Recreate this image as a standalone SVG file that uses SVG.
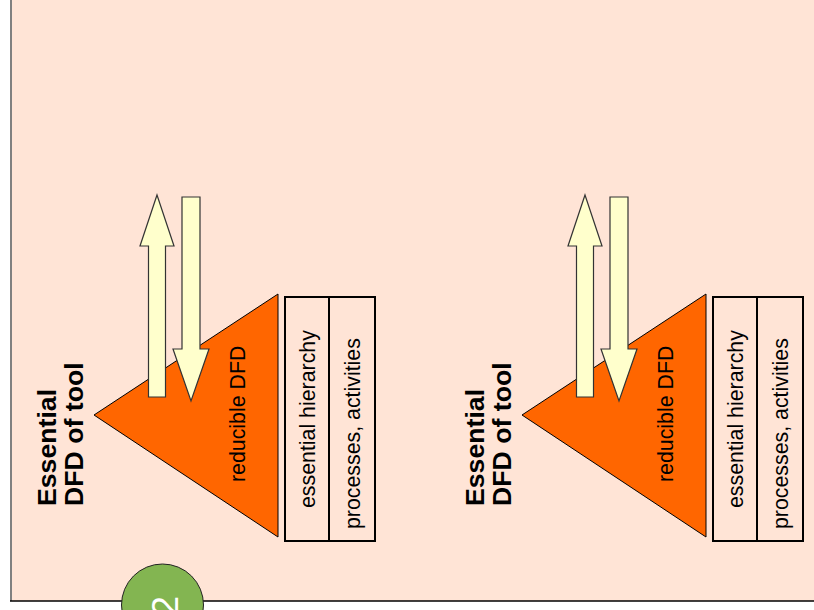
<svg xmlns="http://www.w3.org/2000/svg" width="814" height="610" viewBox="0 0 814 610">
<style>
.bg{fill:#ffe4d6}
.tri{fill:#ff6600;stroke:#000;stroke-width:1}
.arr{fill:#ffffcc;stroke:#333;stroke-width:1.2}
.box{fill:none;stroke:#000;stroke-width:2}
.t{font-family:"Liberation Sans",Arial,sans-serif;font-size:21.33px;fill:#000}
.title{font-family:"Liberation Sans",Arial,sans-serif;font-size:26.67px;font-weight:bold;fill:#000}
.num{font-family:"Liberation Sans",Arial,sans-serif;font-size:36px;fill:#fff}
</style>
<defs>
<g id="unit">
<polygon class="tri" points="94,415 278,294 278,537"/>
<polygon class="arr" points="157,195 174,246 165.5,246 165.5,397 148.5,397 148.5,246 140,246"/>
<polygon class="arr" points="182,197 200,197 200,349 209,349 191,401 173,349 182,349"/>
<rect class="box" x="285" y="297" width="90" height="244"/>
<line class="box" x1="329" y1="297" x2="329" y2="541"/>
<text class="t" transform="translate(245,482) rotate(-90)">reducible DFD</text>
<text class="t" transform="translate(315,508) rotate(-90)">essential hierarchy</text>
<text class="t" transform="translate(360,529) rotate(-90)">processes, activities</text>
<text class="title" transform="translate(56,506) rotate(-90)">Essential</text>
<text class="title" transform="translate(83,506) rotate(-90)">DFD of tool</text>
</g>
</defs>
<rect x="0" y="0" width="814" height="610" fill="#fff"/>
<rect class="bg" x="11" y="-5" width="810" height="606"/>
<line x1="11" y1="-5" x2="11" y2="601" stroke="#808080" stroke-width="2"/>
<line x1="10" y1="601" x2="814" y2="601" stroke="#000" stroke-width="1.5"/>
<g id="left-diagram">
<use href="#unit"/>
</g>
<g id="right-diagram">
<use href="#unit" transform="translate(428,0)"/>
</g>
<g id="page-badge">
<circle cx="162.5" cy="605" r="41" fill="#83b551" stroke="#222" stroke-width="1"/>
<text class="num" transform="translate(178,606) rotate(-90)" text-anchor="middle">2</text>
</g>
<g id="connectors"></g>
</svg>
